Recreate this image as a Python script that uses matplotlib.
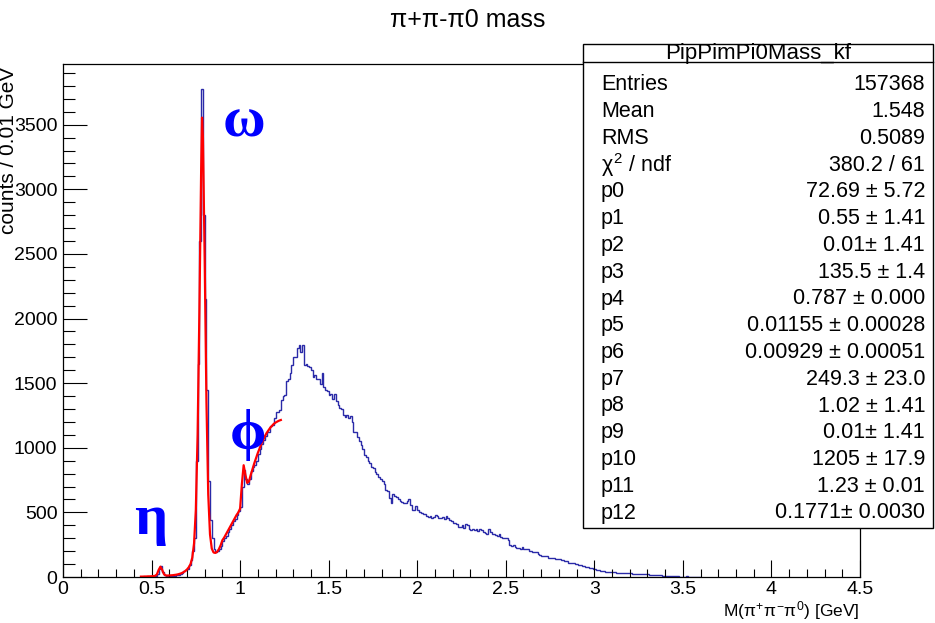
import numpy as np
import matplotlib.pyplot as plt
from matplotlib.patches import Rectangle
from matplotlib.lines import Line2D

# histogram: 0.01 GeV bins, first listed bin starts at 0.45 GeV
hist_start = 0.45
counts = [
    0, 0, 1, 1, 2,
    3, 5, 8, 20, 60, 85, 40, 15, 10, 8,                                   # 0.50
    10, 9, 7, 9, 13, 19, 27, 34, 44, 55,                                  # 0.60
    65, 90, 130, 200, 300, 900, 1650, 2600, 3780, 2800,                   # 0.70
    2150, 1450, 740, 440, 300, 220, 195, 200, 215, 240,                   # 0.80
    275, 300, 320, 350, 375, 400, 430, 450, 480, 510,                     # 0.90
    540, 700, 830, 760, 720, 760, 820, 850, 870, 900,                     # 1.00
    950, 990, 1030, 1060, 1090, 1120, 1125, 1170, 1180, 1230,             # 1.10
    1280, 1275, 1295, 1370, 1400, 1410, 1520, 1530, 1580, 1640,           # 1.20
    1700, 1705, 1770, 1795, 1740, 1795, 1640, 1650, 1635, 1625,           # 1.30
    1600, 1550, 1560, 1530, 1535, 1490, 1580, 1470, 1450, 1440,           # 1.40
    1410, 1415, 1380, 1420, 1360, 1330, 1310, 1300, 1250, 1240,           # 1.50
    1250, 1230, 1245, 1200, 1125, 1120, 1085, 1050, 1020, 990,            # 1.60
    945, 930, 895, 880, 855, 840, 815, 800, 775, 760,                     # 1.70
    745, 720, 675, 665, 610, 575, 640, 630, 620, 600,                     # 1.80
    585, 580, 575, 570, 590, 600, 560, 520, 515, 550,                     # 1.90
    520, 500, 495, 490, 485, 470, 465, 470, 460, 465,                     # 2.00
    480, 470, 460, 455, 465, 450, 470, 455, 440, 430,                     # 2.10
    420, 415, 410, 390, 385, 400, 380, 410, 400, 370,                     # 2.20
    365, 370, 360, 375, 355, 370, 360, 345, 340, 335,                     # 2.30
    370, 345, 330, 330, 325, 320, 330, 310, 305, 300,                     # 2.40
    300, 290, 245, 240, 250, 235, 225, 225, 220, 230,                     # 2.50
    215, 220, 215, 205, 200, 195, 195, 190, 180, 170,                     # 2.60
    165, 165, 160, 160, 150, 150, 145, 150, 140, 140,                     # 2.70
    140, 135, 130, 125, 120, 110, 110, 105, 108, 100,                     # 2.80
    100, 95, 92, 88, 85, 80, 75, 72, 70, 65,                              # 2.90
    60, 55, 52, 50, 48, 45, 42, 40, 38, 38,                               # 3.00
    36, 35, 34, 33, 32, 31, 30, 30, 29, 28,                               # 3.10
    28, 27, 26, 25, 24, 24, 23, 22, 21, 20,                               # 3.20
    20, 18, 17, 16, 15, 14, 13, 12, 11, 10,                               # 3.30
    9, 8, 8, 6, 6, 5, 4, 4, 3, 3,                                         # 3.40
    3, 2, 4, 1, 2, 1, 0, 1, 0, 0,                                         # 3.50
]

# fit curve
fit_x = [0.44, 0.45, 0.46, 0.47, 0.48, 0.49, 0.50, 0.51, 0.52, 0.53,
         0.54, 0.55, 0.56, 0.57, 0.58, 0.59, 0.60, 0.61, 0.62, 0.63,
         0.64, 0.65, 0.66, 0.67, 0.68, 0.69, 0.70, 0.71, 0.72, 0.73,
         0.74, 0.75, 0.76, 0.77, 0.78, 0.785, 0.79, 0.80, 0.81, 0.82,
         0.83, 0.84, 0.85, 0.86, 0.87, 0.88, 0.89, 0.90, 0.91, 0.92,
         0.93, 0.94, 0.95, 0.96, 0.97, 0.98, 0.99, 1.00, 1.01, 1.02,
         1.03, 1.04, 1.05, 1.06, 1.07, 1.08, 1.09, 1.10, 1.11, 1.12,
         1.13, 1.14, 1.15, 1.16, 1.17, 1.18, 1.19, 1.20, 1.21, 1.22, 1.23]
fit_y = [3, 3, 4, 4, 5, 5, 6, 7, 9, 20,
         55, 80, 55, 22, 12, 11, 12, 13, 14, 16,
         18, 21, 25, 30, 37, 46, 58, 75, 100, 150,
         260, 520, 1100, 2050, 3150, 3555, 3400, 2450, 1350, 640,
         330, 220, 190, 186, 195, 215, 245, 285, 305, 330,
         355, 380, 405, 430, 455, 480, 500, 530, 720, 865,
         790, 728, 740, 790, 835, 880, 920, 960, 995, 1030,
         1060, 1090, 1115, 1135, 1155, 1170, 1185, 1195, 1203, 1210, 1215]

stat_names = ['Entries', 'Mean', 'RMS', r'$\chi^{2}$ / ndf',
              'p0', 'p1', 'p2', 'p3', 'p4', 'p5', 'p6',
              'p7', 'p8', 'p9', 'p10', 'p11', 'p12']
stat_values = ['157368', '1.548', '0.5089', '380.2 / 61',
               '72.69 ± 5.72', '0.55 ± 1.41', '0.01± 1.41',
               '135.5 ± 1.4', '0.787 ± 0.000', '0.01155 ± 0.00028',
               '0.00929 ± 0.00051', '249.3 ± 23.0', '1.02 ± 1.41',
               '0.01± 1.41', '1205 ± 17.9', '1.23 ± 0.01',
               '0.1771± 0.0030']

peak_labels = ['η', 'ω', 'ϕ']
peak_pos = [(0.40, 440), (0.90, 3520), (0.94, 1100)]

plt.rcParams['font.family'] = ['Liberation Sans', 'DejaVu Sans']
plt.rcParams['mathtext.fontset'] = 'custom'
plt.rcParams['mathtext.rm'] = 'Liberation Sans'
plt.rcParams['mathtext.it'] = 'Liberation Sans'

W, H = 935, 623
fig = plt.figure(figsize=(W / 100, H / 100), dpi=100)
ax = fig.add_axes([63 / W, 1 - 577 / H, (860 - 63) / W, (577 - 64) / H])

edges = np.round(hist_start + np.arange(len(counts) + 1) * 0.01, 2)
ax.stairs(counts, edges, color='#2a2aa8', linewidth=1.0)
ax.plot(fit_x, fit_y, color='red', linewidth=1.6)

ax.set_xlim(0, 4.5)
ax.set_ylim(0, 3970)
ax.set_xticks(np.arange(0, 4.51, 0.5))
ax.set_xticks(np.arange(0, 4.51, 0.1), minor=True)
ax.set_yticks(np.arange(0, 3501, 500))
ax.set_yticks(np.arange(0, 3901, 100), minor=True)
ax.set_xticklabels(['0', '0.5', '1', '1.5', '2', '2.5', '3', '3.5', '4', '4.5'])
ax.tick_params(axis='x', which='major', direction='in', length=12, width=0.8,
               labelsize=14, pad=3)
ax.tick_params(axis='x', which='minor', direction='in', length=6, width=0.8)
ax.tick_params(axis='y', which='major', direction='in', length=17, width=0.8,
               labelsize=14, pad=4)
ax.tick_params(axis='y', which='minor', direction='in', length=8.5, width=0.8)
for s in ax.spines.values():
    s.set_linewidth(0.9)

ax.set_xlabel(r'M($\pi^{+}\pi^{-}\pi^{0}$) [GeV]', fontsize=12.5)
ax.xaxis.set_label_coords(1.0, -0.066)
ax.xaxis.label.set_horizontalalignment('right')
ax.xaxis.label.set_verticalalignment('center')
ax.set_ylabel('counts / 0.01 GeV', fontsize=15)
ax.yaxis.set_label_coords(-0.069, 0.995)
ax.yaxis.label.set_horizontalalignment('right')
ax.yaxis.label.set_verticalalignment('center')

fig.text(0.5, 1 - 20 / H, 'π+π-π0 mass', ha='center', va='center', fontsize=18)

for lab, (px, py) in zip(peak_labels, peak_pos):
    ax.text(px, py, lab, color='#0000ff', fontsize=42, fontweight='bold',
            family=['Liberation Serif', 'DejaVu Serif'], ha='left', va='center')

# stats box
bx0, bx1, by0, by1 = 583, 933, 44, 528
fig.add_artist(Rectangle((bx0 / W, 1 - by1 / H), (bx1 - bx0) / W, (by1 - by0) / H,
                         transform=fig.transFigure, facecolor='white',
                         edgecolor='black', linewidth=1.0, zorder=5))
fig.add_artist(Line2D([bx0 / W, bx1 / W], [1 - 62 / H, 1 - 62 / H],
                      transform=fig.transFigure, color='black', linewidth=1.0,
                      zorder=6))
fig.text((bx0 + bx1) / 2 / W, 1 - 53 / H, 'PipPimPi0Mass_kf', ha='center',
         va='center', fontsize=16, zorder=7)
row0, step = 85, 26.75
for i, (n, v) in enumerate(zip(stat_names, stat_values)):
    yy = 1 - (row0 + i * step) / H
    fig.text(601 / W, yy, n, ha='left', va='center', fontsize=15.5, zorder=7)
    fig.text(925 / W, yy, v, ha='right', va='center', fontsize=15.5, zorder=7)

fig.savefig('out.png', dpi=100)
